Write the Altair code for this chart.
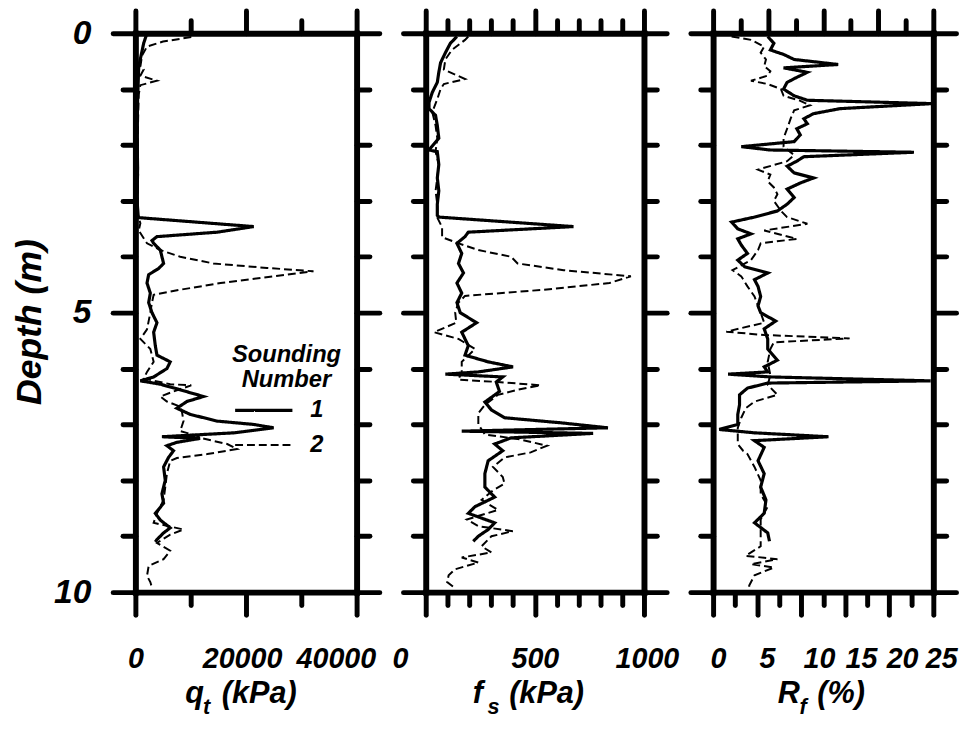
import altair as alt
import pandas as pd

FONT = "Liberation Sans"

# ---------------- data ----------------
qt1_depth = [0.00, 0.18, 0.60, 1.20, 1.80, 2.40, 3.00, 3.26, 3.30, 3.46, 3.56, 3.64, 3.71, 3.76, 3.88, 4.00,
             4.12, 4.21, 4.32, 4.47, 4.65, 4.82, 5.00, 5.18, 5.35, 5.59, 5.76, 5.88, 6.00, 6.15, 6.22, 6.28,
             6.38, 6.50, 6.59, 6.71, 6.82, 6.94, 7.00, 7.06, 7.15, 7.22, 7.25, 7.32, 7.38, 7.47, 7.59, 7.76,
             8.00, 8.24, 8.41, 8.59, 8.71, 8.85, 8.94, 9.06, 9.10]
qt1_value = [2100, 1500, 600, 400, 300, 400, 300, 500, 600, 21400, 14800, 3900, 3000, 3300, 4500, 4800,
             5100, 4200, 2400, 2100, 2700, 2400, 3000, 3900, 3300, 3600, 3900, 6300, 5700, 3300, 900, 4500,
             8100, 12300, 9300, 7500, 9900, 14800, 21400, 25000, 17800, 4800, 11700, 7500, 5700, 6900, 6000, 5100,
             5400, 4800, 5100, 3600, 4500, 6300, 5100, 3900, 3600]

qt2_depth = [0.07, 0.15, 0.24, 0.40, 0.60, 0.65, 0.76, 0.85, 0.93, 1.10, 1.50, 2.00, 2.50, 3.00, 3.24, 3.40,
             3.53, 3.76, 3.88, 4.00, 4.12, 4.20, 4.26, 4.35, 4.47, 4.59, 4.68, 4.82, 5.00, 5.30, 5.47, 5.65,
             5.88, 6.06, 6.18, 6.28, 6.30, 6.41, 6.50, 6.59, 6.68, 6.76, 6.94, 7.12, 7.20, 7.24, 7.35, 7.44,
             7.53, 7.60, 7.65, 7.88, 8.12, 8.35, 8.59, 8.76, 8.88, 8.97, 9.12, 9.26, 9.41, 9.53, 9.71, 9.82, 9.92]
qt2_value = [10100, 5000, 2100, 1200, 900, 1500, 900, 3900, 900, 600, 500, 400, 500, 400, 400, 900,
             600, 2100, 4500, 8100, 14100, 23800, 32200, 24900, 15400, 8100, 3300, 3000, 2700, 2100, 900, 2700,
             3300, 2100, 1500, 6300, 10100, 6900, 4500, 5700, 8100, 8400, 8700, 8100, 11100, 11700, 16600, 18400,
             13000, 7500, 6300, 5700, 5400, 5100, 3900, 3300, 8700, 6300, 3900, 6300, 5100, 2400, 2100, 2700, 3000]

fs1_depth = [0.06, 0.18, 0.35, 0.53, 0.70, 0.88, 1.06, 1.24, 1.35, 1.47, 1.65, 1.88, 2.09, 2.12, 2.35, 2.59,
             2.82, 3.06, 3.26, 3.29, 3.46, 3.56, 3.64, 3.76, 3.94, 4.12, 4.29, 4.47, 4.65, 4.82, 5.00, 5.18,
             5.35, 5.59, 5.76, 5.88, 5.97, 6.06, 6.10, 6.15, 6.24, 6.41, 6.60, 6.74, 6.88, 6.97, 7.06, 7.12,
             7.16, 7.24, 7.35, 7.47, 7.65, 7.88, 8.12, 8.30, 8.47, 8.59, 8.76, 8.88, 9.00, 9.09]
fs1_value = [143, 113, 90, 68, 60, 53, 30, 15, 15, 45, 53, 60, 15, 53, 60, 53,
             60, 53, 53, 60, 677, 195, 180, 143, 165, 150, 173, 143, 165, 143, 158, 233,
             165, 195, 180, 286, 400, 241, 90, 353, 323, 338, 271, 301, 361, 617, 835, 165,
             767, 391, 316, 353, 286, 271, 271, 316, 226, 195, 316, 286, 241, 218]

fs2_depth = [0.06, 0.12, 0.30, 0.47, 0.65, 0.82, 0.91, 1.00, 1.18, 1.41, 1.65, 1.88, 2.12, 2.35, 2.59, 2.82,
             3.06, 3.30, 3.47, 3.65, 3.76, 3.88, 4.00, 4.12, 4.24, 4.35, 4.47, 4.59, 4.70, 4.82, 5.00, 5.18,
             5.35, 5.47, 5.65, 5.88, 6.06, 6.20, 6.24, 6.30, 6.38, 6.47, 6.65, 6.80, 7.00, 7.18, 7.26, 7.38,
             7.50, 7.59, 7.76, 7.94, 8.06, 8.18, 8.35, 8.53, 8.70, 8.82, 8.91, 9.00, 9.18, 9.29, 9.38, 9.47,
             9.59, 9.70, 9.82, 9.91]
fs2_value = [195, 180, 120, 90, 83, 180, 83, 68, 53, 30, 45, 53, 45, 60, 53, 45,
             53, 53, 75, 75, 150, 241, 391, 421, 632, 940, 842, 541, 180, 150, 135, 140,
             38, 150, 226, 165, 165, 150, 331, 526, 421, 331, 271, 241, 241, 271, 421, 556,
             481, 361, 308, 353, 361, 308, 256, 331, 188, 241, 399, 301, 256, 301, 165, 241,
             135, 105, 98, 128]

rf1_depth = [0.06, 0.18, 0.30, 0.38, 0.47, 0.56, 0.62, 0.70, 0.79, 0.88, 1.00, 1.12, 1.20, 1.26, 1.35, 1.44,
             1.53, 1.62, 1.71, 1.82, 1.94, 2.03, 2.09, 2.13, 2.21, 2.29, 2.38, 2.50, 2.59, 2.68, 2.79, 2.94,
             3.06, 3.18, 3.29, 3.38, 3.50, 3.59, 3.68, 3.79, 3.94, 4.06, 4.18, 4.29, 4.41, 4.53, 4.71, 4.88,
             5.00, 5.15, 5.29, 5.47, 5.65, 5.85, 5.97, 6.06, 6.10, 6.15, 6.22, 6.26, 6.35, 6.47, 6.65, 6.82,
             7.00, 7.09, 7.15, 7.22, 7.29, 7.41, 7.65, 7.88, 8.12, 8.35, 8.59, 8.76, 8.94, 9.09]
rf1_value = [6.2, 6.9, 6.5, 8.0, 9.2, 14.2, 8.0, 10.7, 9.5, 8.4, 8.0, 9.2, 10.7, 24.9, 14.4, 11.4,
             10.3, 10.7, 9.5, 9.9, 9.2, 3.2, 6.5, 22.8, 10.3, 9.5, 8.4, 9.2, 11.4, 9.9, 8.4, 9.2,
             8.4, 7.3, 4.7, 2.1, 2.8, 4.3, 2.8, 3.2, 3.9, 2.8, 3.6, 6.2, 4.7, 5.1, 5.4, 5.1,
             5.4, 7.1, 5.8, 6.2, 6.2, 7.3, 5.8, 6.2, 1.7, 6.5, 24.7, 6.2, 3.9, 3.0, 3.0, 2.8,
             2.8, 0.7, 4.7, 13.1, 4.7, 5.8, 5.1, 5.8, 5.4, 6.0, 5.8, 4.7, 6.2, 6.4]

rf2_depth = [0.06, 0.12, 0.24, 0.35, 0.47, 0.59, 0.68, 0.76, 0.85, 0.91, 1.00, 1.12, 1.21, 1.29, 1.38, 1.53,
             1.71, 1.88, 2.03, 2.18, 2.29, 2.44, 2.53, 2.65, 2.76, 2.88, 3.00, 3.18, 3.29, 3.41, 3.53, 3.68,
             3.76, 3.88, 4.06, 4.24, 4.35, 4.53, 4.71, 4.88, 5.00, 5.18, 5.34, 5.40, 5.46, 5.53, 5.65, 5.88,
             6.12, 6.29, 6.47, 6.59, 6.71, 6.88, 7.06, 7.35, 7.47, 7.53, 7.76, 8.00, 8.24, 8.47, 8.70, 8.94,
             9.18, 9.35, 9.41, 9.50, 9.56, 9.70, 9.88, 9.93]
rf2_value = [2.1, 4.3, 5.8, 5.4, 6.0, 5.8, 6.5, 6.2, 4.3, 6.2, 7.7, 8.0, 9.9, 11.0, 9.2, 8.8,
             8.4, 8.0, 8.0, 9.2, 8.4, 5.1, 6.5, 6.2, 6.9, 7.3, 6.9, 7.7, 8.4, 10.7, 5.8, 9.5,
             5.4, 5.1, 4.3, 2.2, 3.2, 3.9, 4.7, 5.1, 5.4, 5.8, 1.5, 5.8, 15.5, 6.9, 6.5, 6.2,
             6.5, 6.2, 7.3, 4.7, 3.7, 3.2, 2.8, 2.8, 3.4, 3.9, 4.7, 5.4, 5.4, 6.2, 5.4, 5.4,
             5.4, 3.7, 7.3, 4.3, 6.9, 4.7, 4.1, 4.1]

soundings = ["1", "2"]
depth_ticks = list(range(0, 11))
depth_labels = [0, 5, 10]

qt_ticks = [0, 10000, 20000, 30000, 40000]
qt_labels = [0, 20000, 40000]
qt_label_nudge = [0, -4, -21]
fs_ticks = list(range(0, 1001, 100))
fs_labels = [0, 500, 1000]
fs_label_nudge = [-26, 0, 3]
rf_top_ticks = [i * 3.125 for i in range(9)]
rf_bottom_ticks = [i * 2.5 for i in range(11)]
rf_labels = [0, 5, 10, 15, 20, 25]
rf_label_nudge = [5, 10, 18, 16, 13, 8]


def frame(d1, v1, d2, v2):
    return pd.concat([
        pd.DataFrame({"depth": d1, "value": v1, "sounding": soundings[0]}),
        pd.DataFrame({"depth": d2, "value": v2, "sounding": soundings[1]}),
    ], ignore_index=True)


def tick_axis(orient, values, test):
    return alt.Axis(orient=orient, values=values, labels=False, title=None, grid=False,
                    domain=True, domainColor="black", domainWidth=6, domainCap="square",
                    ticks=True, tickColor="black", tickWidth=5, tickCap="round",
                    tickSize={"condition": {"test": test, "value": 23}, "value": 13})


def title_axis(orient, text, tx, ty, size):
    return alt.Axis(orient=orient, labels=False, ticks=False, domain=False, grid=False,
                    title=text, titleX=tx, titleY=ty, titleAlign="left", titleBaseline="alphabetic",
                    titleFont=FONT, titleFontSize=size, titleFontStyle="italic", titleFontWeight="bold",
                    titleColor="black")


def nudge(values, shifts):
    conds = [{"test": f"datum.value === {v}", "value": s} for v, s in zip(values, shifts) if s != 0]
    return {"condition": conds, "value": 0}


def panel(df, xmax, width, top_vals, top_test, bot_vals, bot_test, label_vals, label_nudge, pieces, first):
    xs = alt.Scale(domain=[0, xmax], nice=False, zero=False)
    ys = alt.Scale(domain=[0, 10], reverse=True, nice=False, zero=False)
    base = alt.Chart(df)
    dtest = "datum.value % 5 === 0"
    legend = None
    if first:
        legend = alt.Legend(orient="none", legendX=98, legendY=314, title=["Sounding", "Number"],
                            titleFont=FONT, titleFontSize=24, titleFontStyle="italic", titleFontWeight="bold",
                            titleColor="black", titleAlign="center", titleAnchor="start", titleLineHeight=25,
                            titlePadding=7, labelFont=FONT, labelFontSize=24, labelFontStyle="italic",
                            labelFontWeight="bold", labelColor="black", labelOffset=0,
                            symbolType="M-64,0L-6,0", symbolSize=4, symbolStrokeColor="black",
                            symbolStrokeWidth=3, rowPadding=11, padding=0)
    lines = base.mark_line(color="black", clip=True).encode(
        x=alt.X("value:Q", scale=xs, axis=tick_axis("bottom", bot_vals, bot_test)),
        y=alt.Y("depth:Q", scale=ys, axis=tick_axis("left", depth_ticks, dtest)),
        strokeDash=alt.StrokeDash("sounding:N", scale=alt.Scale(domain=soundings, range=[[1, 0], [8, 4]]),
                                  legend=legend),
        strokeWidth=alt.StrokeWidth("sounding:N", scale=alt.Scale(domain=soundings, range=[3.2, 2]), legend=None),
        order=alt.Order("depth:Q"),
    )
    ghost = base.mark_line(opacity=0, clip=True)
    top = ghost.encode(
        x=alt.X("value:Q", scale=xs, axis=tick_axis("top", top_vals, top_test)),
        y=alt.Y("depth:Q", scale=ys, axis=tick_axis("right", depth_ticks, dtest)),
        detail="sounding:N", order=alt.Order("depth:Q"),
    )
    if first:
        yaxis = alt.Axis(orient="left", values=depth_labels, labels=True, ticks=False, domain=False,
                         grid=False, labelFont=FONT, labelFontSize=34, labelFontStyle="italic",
                         labelFontWeight="bold", labelColor="black", labelPadding=45, labelFlush=False,
                         labelOverlap=False, title="Depth (m)", titleX=-107, titleY=292, titleAngle=270,
                         titleAlign="center", titleBaseline="middle", titleFont=FONT, titleFontSize=36,
                         titleFontStyle="italic", titleFontWeight="bold", titleColor="black")
    else:
        yaxis = None
    lab = ghost.encode(
        x=alt.X("value:Q", scale=xs, axis=alt.Axis(
            orient="bottom", values=label_vals, format="d", labels=True, ticks=False, domain=False,
            grid=False, labelFont=FONT, labelFontSize=29, labelFontStyle="italic", labelFontWeight="bold",
            labelColor="black", labelPadding=53, labelFlush=False, labelOverlap=False, labelBound=False,
            labelOffset=nudge(label_vals, label_nudge),
            title=pieces[2][0], titleX=pieces[2][1], titleY=112, titleAlign="left",
            titleBaseline="alphabetic", titleFont=FONT, titleFontSize=31, titleFontStyle="italic",
            titleFontWeight="bold", titleColor="black")),
        y=alt.Y("depth:Q", scale=ys, axis=yaxis),
        detail="sounding:N", order=alt.Order("depth:Q"),
    )
    main_letter = ghost.encode(
        x=alt.X("value:Q", scale=xs, axis=title_axis("bottom", pieces[0][0], pieces[0][1], 112, 31)),
        y=alt.Y("depth:Q", scale=ys, axis=None),
        detail="sounding:N", order=alt.Order("depth:Q"),
    )
    sub_letter = ghost.encode(
        x=alt.X("value:Q", scale=xs, axis=title_axis("bottom", pieces[1][0], pieces[1][1], 123, 22)),
        y=alt.Y("depth:Q", scale=ys, axis=None),
        detail="sounding:N", order=alt.Order("depth:Q"),
    )
    return alt.layer(lines, top, lab, main_letter, sub_letter).resolve_axis(
        x="independent", y="independent").properties(width=width, height=566)


p1 = panel(frame(qt1_depth, qt1_value, qt2_depth, qt2_value), 40000, 224,
           qt_ticks, "datum.value % 20000 === 0", qt_ticks, "datum.value % 20000 === 0", qt_labels,
           qt_label_nudge, [("q", 50), ("t", 68), ("(kPa)", 87)], True)
p2 = panel(frame(fs1_depth, fs1_value, fs2_depth, fs2_value), 1000, 221,
           fs_ticks, "datum.value % 500 === 0", fs_ticks, "datum.value % 500 === 0", fs_labels,
           fs_label_nudge, [("f", 47), ("s", 62), ("(kPa)", 84)], False)
p3 = panel(frame(rf1_depth, rf1_value, rf2_depth, rf2_value), 25, 223,
           rf_top_ticks, "datum.value % 6.25 === 0", rf_bottom_ticks, "datum.value % 5 === 0", rf_labels,
           rf_label_nudge, [("R", 65), ("f", 87), ("(%)", 105)], False)

chart = alt.hconcat(p1, p2, p3, spacing=70, bounds="flush").properties(
    padding={"left": 4, "top": -5, "right": 0, "bottom": 0}, background="white"
).configure_view(strokeWidth=0)

chart.save("out.html", embed_options={"renderer": "svg", "actions": False})
